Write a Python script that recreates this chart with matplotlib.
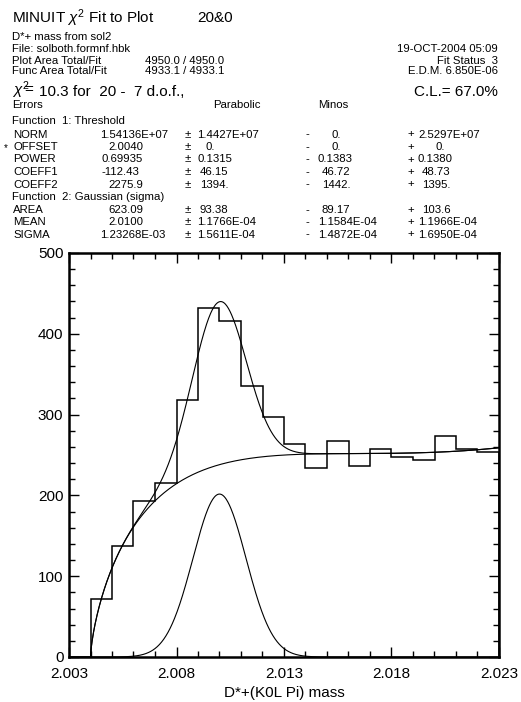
import numpy as np
import matplotlib.pyplot as plt

# histogram data (bins of 0.001 from 2.003 to 2.023)
bin_edges = np.round(np.arange(2.003, 2.0235, 0.001), 3)
counts = [0, 72, 137, 193, 215, 318, 432, 416, 336, 297,
          264, 234, 267, 236, 257, 247, 244, 274, 257, 254]

# fit parameters shown in the box
thr_par = [1.54136e+07, 2.0040, 0.69935, -112.43, 2275.9]   # NORM OFFSET POWER COEFF1 COEFF2
gau_par = [623.09, 2.0100, 1.23268e-03]                      # AREA MEAN SIGMA
bin_w = 0.001

x_ticks = [2.003, 2.008, 2.013, 2.018, 2.023]
x_ticklabels = ['2.003', '2.008', '2.013', '2.018', '2.023']
y_ticks = [0, 100, 200, 300, 400, 500]

plt.rcParams['font.family'] = ['Liberation Sans', 'DejaVu Sans']
plt.rcParams['mathtext.fontset'] = 'custom'
plt.rcParams['mathtext.rm'] = 'Liberation Sans'
plt.rcParams['mathtext.it'] = 'Liberation Sans:italic'

W, H = 521, 702
fig = plt.figure(figsize=(W / 100, H / 100), dpi=100)
ax = fig.add_axes([69 / W, 1 - 657 / H, 430 / W, 404 / H])


def thr(x):
    n, off, p, c1, c2 = thr_par
    dx = np.clip(x - off, 0, None)
    return n * bin_w * dx ** p * np.exp(c1 * dx + c2 * dx ** 2)


def gau(x):
    a, mu, s = gau_par
    return a * bin_w / (np.sqrt(2 * np.pi) * s) * np.exp(-0.5 * ((x - mu) / s) ** 2)


xs = np.linspace(thr_par[1], 2.023, 800)
ax.stairs(counts, bin_edges, color='black', lw=1.1)
ax.plot(xs, thr(xs), color='black', lw=0.8)
ax.plot(xs, thr(xs) + gau(xs), color='black', lw=0.8)
xg = np.linspace(2.003, 2.023, 800)
ax.plot(xg, gau(xg), color='black', lw=0.8)

ax.set_xlim(2.003, 2.023)
ax.set_ylim(0, 500)
ax.set_xticks(x_ticks)
ax.set_xticklabels(x_ticklabels)
ax.set_xticks(np.arange(2.003, 2.0235, 0.001), minor=True)
ax.set_yticks(y_ticks)
ax.set_yticks(np.arange(0, 501, 20), minor=True)
ax.tick_params(which='both', direction='in', top=True, right=True, width=1.0, labelsize=11)
ax.tick_params(which='major', length=7.5)
ax.tick_params(which='minor', length=4.5)
ax.tick_params(axis='x', pad=7)
ax.tick_params(axis='y', pad=4)
for sp in ax.spines.values():
    sp.set_linewidth(1.8)
ax.set_xlabel('D*+(K0L Pi) mass', fontsize=11, labelpad=4)


# header text, positions in pixels
def txt(x, y, s, size=8.2, ha='left'):
    fig.text(x / W, 1 - y / H, s, fontsize=size, ha=ha, va='center')


txt(12, 18, r'MINUIT $\chi^2$ Fit to Plot', 11)
txt(197, 18, '20&0', 11)
txt(12, 37.5, 'D*+ mass from sol2')
txt(12, 49, 'File: solboth.formnf.hbk')
txt(12, 60.5, 'Plot Area Total/Fit')
txt(145, 60.5, '4950.0 / 4950.0')
txt(12, 71.5, 'Func Area Total/Fit')
txt(145, 71.5, '4933.1 / 4933.1')
txt(498, 49, '19-OCT-2004 05:09', ha='right')
txt(498, 60.5, 'Fit Status  3', ha='right')
txt(498, 71.5, 'E.D.M. 6.850E-06', ha='right')
txt(12, 90.5, r'$\chi^2\!\!\!=$', 11)
txt(39, 91.5, '10.3 for  20 -  7 d.o.f.,', 11)
txt(498, 91.5, 'C.L.= 67.0%', 11, ha='right')
txt(12, 105.5, 'Errors')
txt(213, 105.5, 'Parabolic')
txt(318, 105.5, 'Minos')
txt(12, 121.5, 'Function  1: Threshold')

rows_y = [134.5, 147, 159.5, 172, 184.5, 210, 222, 234.5]
names = ['NORM', 'OFFSET', 'POWER', 'COEFF1', 'COEFF2', 'AREA', 'MEAN', 'SIGMA']
values = ['1.54136E+07', '2.0040', '0.69935', '-112.43', '2275.9', '623.09', '2.0100', '1.23268E-03']
val_x = [100, 108, 102, 101, 108, 108, 108, 100]
parab = ['1.4427E+07', '0.', '0.1315', '46.15', '1394.', '93.38', '1.1766E-04', '1.5611E-04']
parab_x = [197, 205, 197, 200, 200, 200, 197, 197]
minus = ['0.', '0.', '0.1383', '46.72', '1442.', '89.17', '1.1584E-04', '1.4872E-04']
minus_x = [332, 332, 318, 322, 322, 322, 318, 318]
plus = ['2.5297E+07', '0.', '0.1380', '48.73', '1395.', '103.6', '1.1966E-04', '1.6950E-04']
plus_x = [418, 436, 418, 422, 422, 422, 418, 418]

for i in range(len(names)):
    y = rows_y[i]
    txt(13, y, names[i])
    txt(val_x[i], y, values[i])
    txt(185, y, '±')
    txt(parab_x[i], y, parab[i])
    txt(305, y, '-')
    txt(minus_x[i], y, minus[i])
    txt(407, y, '+')
    txt(plus_x[i], y, plus[i])
txt(4, 148, '*', 7)
txt(12, 197, 'Function  2: Gaussian (sigma)')

plt.savefig('out.png', dpi=100)
